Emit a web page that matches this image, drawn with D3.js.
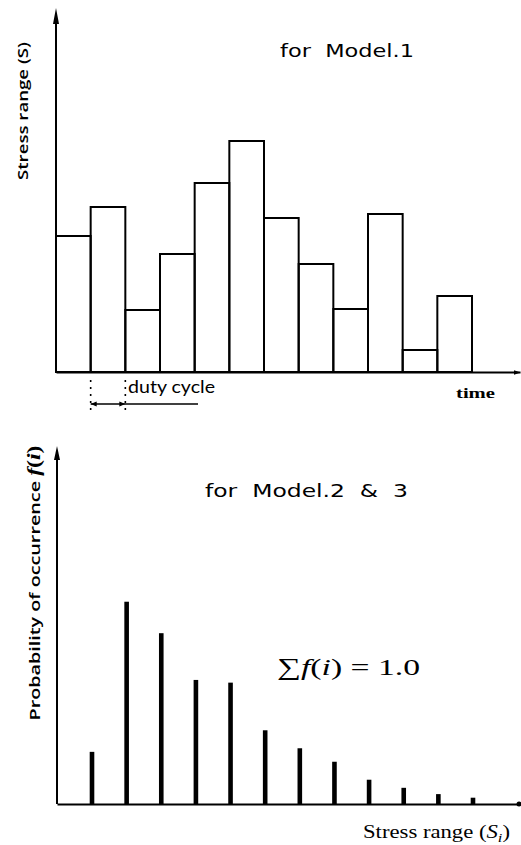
<!DOCTYPE html>
<html><head><meta charset="utf-8">
<script src="https://cdn.jsdelivr.net/npm/d3@7"></script>
<style>html,body{margin:0;padding:0;background:#fff}svg{display:block}</style>
</head><body>
<script>
// ---- data ----
const cycles = [1,2,3,4,5,6,7,8,9,10,11,12];
const stressRange = [136,165,62,118,189,231,154,108,63,158,22,76];
const stressLevels = [1,2,3,4,5,6,7,8,9,10,11,12];
const probability = [0.058,0.225,0.190,0.138,0.135,0.082,0.062,0.047,0.027,0.018,0.011,0.007];
const titleTop = "for  Model.1";
const titleBottom = "for  Model.2  &  3";

const W = 521, H = 845;
const svg = d3.select("body").append("svg").attr("width", W).attr("height", H);
const defs = svg.append("defs");
defs.append("marker").attr("id","arr").attr("viewBox","0 0 10 10").attr("refX",10).attr("refY",5)
  .attr("markerWidth",7).attr("markerHeight",7).attr("markerUnits","userSpaceOnUse").attr("orient","auto")
  .append("path").attr("d","M0,1.5L10,5L0,8.5Z").attr("fill","#000");

const ink = "#000";

// ================= TOP CHART =================
const x1 = d3.scaleBand().domain(cycles).range([56, 472]).paddingInner(0).paddingOuter(0);
const y1 = d3.scaleLinear().domain([0, 362]).range([372, 10]);

const g1 = svg.append("g");
g1.selectAll("rect.bar").data(cycles).enter().append("rect").attr("class","bar")
  .attr("x", d => x1(d)).attr("width", x1.bandwidth())
  .attr("y", (d,i) => y1(stressRange[i])).attr("height", (d,i) => y1(0) - y1(stressRange[i]))
  .attr("fill","none").attr("stroke", ink).attr("stroke-width", 2);

// axes (no ticks)
const xAxis1Scale = d3.scaleLinear().domain([0,1]).range([56, 520]);
const xa1 = g1.append("g").attr("transform", `translate(0,${y1(0)})`)
  .call(d3.axisBottom(xAxis1Scale).tickValues([]).tickSizeOuter(0));
xa1.select(".domain").attr("stroke", ink).attr("stroke-width", 2.2).attr("marker-end","url(#arr)");
const ya1 = g1.append("g").attr("transform", `translate(${x1.range()[0]},0)`)
  .call(d3.axisLeft(y1).tickValues([]).tickSizeOuter(0));
ya1.select(".domain").attr("stroke", ink).attr("stroke-width", 2)
  .attr("d", `M0,${y1(0)}V${y1.range()[1]+14}`);
g1.append("path").attr("d", `M${x1.range()[0]-3},${y1.range()[1]+14}L${x1.range()[0]},${y1.range()[1]-2}L${x1.range()[0]+3},${y1.range()[1]+14}Z`).attr("fill", ink);

// duty cycle annotation
const dA = x1(2), dB = x1(3);
[dA, dB].forEach(xx => {
  g1.append("line").attr("x1", xx).attr("x2", xx).attr("y1", 380).attr("y2", 414)
    .attr("stroke", ink).attr("stroke-width", 1.6).attr("stroke-dasharray", "2,5");
});
g1.append("line").attr("x1", dA).attr("x2", 198).attr("y1", 404).attr("y2", 404)
  .attr("stroke", ink).attr("stroke-width", 1.5);
g1.append("path").attr("d", `M${dA},404l6,-2.5v5z`).attr("fill", ink);
g1.append("path").attr("d", `M${dB},404l-6,-2.5v5z`).attr("fill", ink);
g1.append("text").attr("x", 128).attr("y", 393).text("duty cycle")
  .attr("font-family","Lato, 'Open Sans', sans-serif").attr("font-size", 17)
  .attr("textLength", 87).attr("lengthAdjust","spacingAndGlyphs").attr("fill", ink);

g1.append("text").attr("x", 456).attr("y", 398).text("time")
  .attr("font-family","'Liberation Serif', serif").attr("font-weight","bold").attr("font-size", 15)
  .attr("textLength", 39).attr("lengthAdjust","spacingAndGlyphs").attr("fill", ink);

g1.append("text").attr("x", 280).attr("y", 57).text(titleTop)
  .style("white-space","pre")
  .attr("font-family","'DejaVu Sans', sans-serif").attr("font-size", 18)
  .attr("textLength", 134).attr("lengthAdjust","spacingAndGlyphs").attr("fill", ink);

g1.append("text").attr("transform", "translate(28,111) rotate(-90)").attr("text-anchor","middle")
  .text("Stress range (S)")
  .attr("font-family","'Open Sans', Lato, sans-serif").attr("font-size", 15).attr("font-weight", 600)
  .attr("textLength", 138).attr("lengthAdjust","spacingAndGlyphs").attr("fill", ink);

// ================= BOTTOM CHART =================
const x2 = d3.scaleLinear().domain([1, 12]).range([92, 473]);
const y2 = d3.scaleLinear().domain([0, 0.396]).range([804, 448]);
const g2 = svg.append("g");

g2.selectAll("rect.spike").data(stressLevels).enter().append("rect").attr("class","spike")
  .attr("x", d => x2(d) - 2.3).attr("width", 4.6)
  .attr("y", (d,i) => y2(probability[i])).attr("height", (d,i) => y2(0) - y2(probability[i]))
  .attr("fill", ink);

const xAxis2Scale = d3.scaleLinear().domain([0,1]).range([57, 519]);
const xa2 = g2.append("g").attr("transform", `translate(0,${y2(0)})`)
  .call(d3.axisBottom(xAxis2Scale).tickValues([]).tickSizeOuter(0));
xa2.select(".domain").attr("stroke", ink).attr("stroke-width", 2.2);
g2.append("circle").attr("cx", xAxis2Scale.range()[1]).attr("cy", y2(0)).attr("r", 2.5).attr("fill", ink);

const ya2 = g2.append("g").attr("transform", `translate(57,0)`)
  .call(d3.axisLeft(y2).tickValues([]).tickSizeOuter(0));
ya2.select(".domain").attr("stroke", ink).attr("stroke-width", 2)
  .attr("d", `M0,${y2(0)}V${y2.range()[1]+12}`);
g2.append("path").attr("d", `M54,${y2.range()[1]+12}L57,${y2.range()[1]-2}L60,${y2.range()[1]+12}Z`).attr("fill", ink);

g2.append("text").attr("x", 205).attr("y", 497).text(titleBottom)
  .style("white-space","pre")
  .attr("font-family","'DejaVu Sans', sans-serif").attr("font-size", 18)
  .attr("textLength", 203).attr("lengthAdjust","spacingAndGlyphs").attr("fill", ink);

const sumT = g2.append("text").attr("x", 277).attr("y", 675)
  .attr("font-family","'Liberation Serif', serif").attr("font-size", 24).attr("fill", ink)
  .attr("textLength", 143).attr("lengthAdjust","spacingAndGlyphs");
sumT.append("tspan").text("\u2211");
sumT.append("tspan").attr("font-style","italic").text("f");
sumT.append("tspan").text("(");
sumT.append("tspan").attr("font-style","italic").text("i");
sumT.append("tspan").text(") = 1.0");

const xl = g2.append("text").attr("x", 363).attr("y", 838)
  .attr("font-family","'Liberation Serif', serif").attr("font-size", 18).attr("fill", ink)
  .attr("textLength", 147).attr("lengthAdjust","spacingAndGlyphs");
xl.append("tspan").text("Stress range (");
xl.append("tspan").attr("font-style","italic").text("S");
xl.append("tspan").attr("font-style","italic").attr("font-size", 13).attr("dy", 4).text("i");
xl.append("tspan").attr("dy", -4).text(")");

const yl = g2.append("text").attr("transform", "translate(40,583) rotate(-90)").attr("text-anchor","middle")
  .attr("font-family","'Open Sans', Lato, sans-serif").attr("font-size", 15).attr("font-weight", 600).attr("fill", ink)
  .attr("textLength", 275).attr("lengthAdjust","spacingAndGlyphs");
yl.append("tspan").text("Probability of occurrence ");
yl.append("tspan").attr("font-family","'Liberation Serif', serif").attr("font-style","italic").attr("font-size",18).text("f");
yl.append("tspan").attr("font-family","'Liberation Serif', serif").attr("font-size",18).text("(");
yl.append("tspan").attr("font-family","'Liberation Serif', serif").attr("font-style","italic").attr("font-size",18).text("i");
yl.append("tspan").attr("font-family","'Liberation Serif', serif").attr("font-size",18).text(")");
</script>
</body></html>
